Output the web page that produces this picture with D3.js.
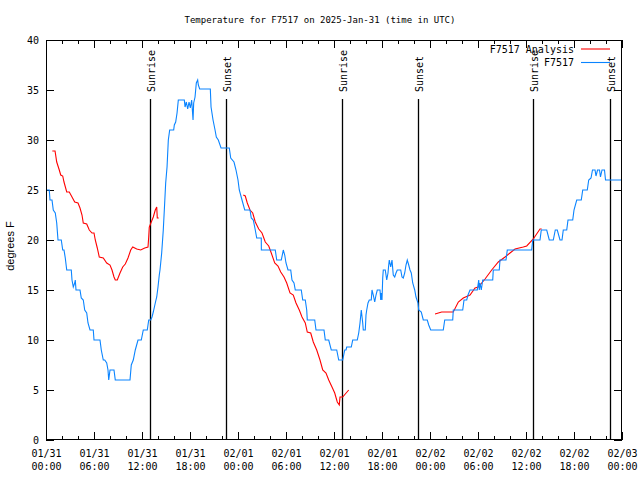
<!DOCTYPE html>
<html><head><meta charset="utf-8">
<script src="https://cdn.jsdelivr.net/npm/d3@7"></script>
<style>
body{margin:0;background:#fff;}
svg{display:block;}
text{font-family:"DejaVu Sans Mono",monospace;font-size:10px;fill:#000;}
</style></head><body>
<svg id="c" width="640" height="480"></svg>
<script>
// ---- data (hours after 2025-01-31 00:00 UTC) ----
const titleText = "Temperature for F7517 on 2025-Jan-31 (time in UTC)";
const yLabel = "degrees F";
const seriesNames = ["F7517 Analysis", "F7517"];
const yTicks = [0,5,10,15,20,25,30,35,40];

const obsHours = [0,0.41,0.5,0.75,0.91,1.16,1.34,1.5,1.91,2.09,2.25,2.41,2.59,3.16,3.25,3.41,3.59,3.66,3.75,4.25,4.41,4.66,4.84,5.09,5.25,5.5,5.91,6.0,6.75,6.91,7.16,7.34,7.59,7.75,7.84,8.0,8.5,8.66,10.5,10.66,10.91,11.16,11.5,11.91,12.16,12.66,12.84,13.09,13.25,13.41,13.66,13.84,14.0,14.16,14.25,14.46,14.66,14.79,14.96,15.13,15.29,15.46,15.96,16.04,16.21,16.38,16.54,17.29,17.38,17.54,17.71,17.88,18.04,18.21,18.38,18.46,18.63,18.79,18.96,19.04,19.21,20.54,20.63,20.88,21.13,21.29,21.54,21.88,22.91,23.09,23.5,23.75,24.0,24.16,24.5,24.84,25.5,25.66,25.91,26.16,26.34,26.91,26.92,28.66,28.84,29.41,29.59,29.66,29.84,30.0,30.25,30.59,30.75,31.0,31.16,31.91,32.09,32.41,32.59,32.66,33.59,33.75,34.75,34.91,35.34,35.66,36.34,36.59,37.09,37.34,37.5,37.59,38.16,38.34,38.91,39.09,39.25,39.41,39.59,39.66,39.91,40.0,40.09,40.25,40.41,40.66,40.75,40.91,41.09,41.25,41.41,41.75,41.84,41.91,42.0,42.09,42.16,42.41,42.59,42.75,42.84,42.91,43.09,43.25,43.41,43.59,43.75,43.91,44.34,44.5,44.66,44.84,45.0,45.16,45.34,45.5,45.66,45.84,46.09,46.25,46.5,46.59,46.91,47.16,47.66,47.84,48.09,49.66,49.84,50.84,50.91,52.09,52.25,52.59,52.75,53.0,53.91,54.09,54.16,54.25,54.41,54.59,55.84,55.91,56.66,56.75,57.5,57.66,60.71,60.84,61.75,61.91,62.59,62.91,63.41,63.66,63.91,64.25,64.5,64.66,65.09,65.25,65.84,66.0,66.34,66.91,67.09,67.66,67.84,68.13,68.31,68.63,68.75,68.94,69.19,69.31,69.5,69.81,69.94,72];
const obsValues = [25,25,24,24,23,22.7,21.7,20,20,19,19,18.2,17,17,16,15.3,15.7,16,15,15,14.2,14,13,12.7,11.7,11,11,10,10,9,8,8,7.7,7,6,7,7,6,6,7.5,8,9,10,10,11,11,12,12,12.3,12.8,13.7,14.3,15.3,16.5,17,18.7,21,23,25.7,27.3,30,31,31,31.5,31.8,32.7,34,34,33.3,33.8,33.1,33.8,33.2,34,32,33.7,34.3,35.7,36,35.5,35.1,35.1,33.3,32,31,30.3,30,29.2,29.2,28.2,27.8,27,26,25,24,23,23,22.2,22,21,20.2,20.2,19,19,18,18,18.7,19,18.5,17.7,17,17,16,15.7,15,15,14,14,13,12,12,11,11,10,10,9,9,8,8,9,9,9.3,9.3,10,10,10.7,11.7,13,11.7,11,11,12.5,13,13.7,14,14,15,14.5,13.8,14.5,15,15,14,14.7,14,16.2,17,17,16,16.7,17.5,18,17.3,18,16.5,16.3,16.7,17,17,16.3,16.2,16.7,17.5,18,17.5,17,16.7,15.7,15,14.3,13.7,13,12.8,12,12,11.5,11,11,12,12,13,13,14,14,14.5,15,15,16,15,15.7,15,16,16,17,17,18,18,19,19,20,20,21,21,20,20,21,21,20,20,21,21,22,22,23,24,24,25,25,26,26.2,27,27,26.4,27,27,26.3,27,27,26,26];

// analysis: null marks gaps between runs
const anaHours = [0.79,1.13,1.34,1.66,1.84,2.09,2.25,2.59,2.91,3.25,3.59,4.0,4.25,4.5,4.66,5.09,5.41,5.75,6.0,6.16,6.41,6.66,7.16,7.59,8.0,8.25,8.5,8.66,8.91,9.25,9.59,9.91,10.25,10.59,10.84,11.34,11.84,12.34,12.75,12.84,12.91,13.16,13.41,13.66,13.84,13.91,14.09,
  19,
  24.66,24.91,25.16,25.5,25.84,26.16,26.59,27.0,27.41,27.84,28.16,28.59,29.0,29.34,29.75,30.09,30.5,30.91,31.25,31.66,32.0,32.41,32.66,33.09,33.41,33.84,34.25,34.59,35.0,35.34,35.75,36.09,36.41,36.66,36.75,37.09,37.41,37.84,
  43,
  48.63,49.46,50.91,51.54,52.16,53.0,53.63,54.04,54.88,55.71,56.54,57.38,58.0,58.63,59.66,60.09,60.91,61.75,61.96];
const anaValues = [28.9,28.9,27.8,27,26.5,26.4,25.8,24.8,24.8,24.3,23.8,23.7,23.2,22.5,21.7,21.6,21,20.7,20.7,20,19.2,18.3,18.2,17.7,17.5,17,16.3,16,16,16.7,17.3,17.6,18.2,19,19.3,19.1,19,19.2,19.3,20.3,21.3,21.8,22.3,23,23.3,22.2,22.2,
  null,
  24.5,24.4,23.7,23,22.7,21.8,21.1,20.7,19.8,19.4,18.7,17.7,17.4,16.8,16.3,15.7,14.7,14.5,13.7,13,12.3,11.7,10.8,10.7,9.8,9,8,7,6.7,6,5.3,4.7,3.8,3.5,4.3,4.3,4.6,5,
  null,
  12.6,12.8,12.8,13.8,14.2,14.5,15.2,15.3,16.1,17,17.8,18.3,18.7,19.1,19.3,19.4,20.1,21.1,21.1];

const sunHours = [13.0, 22.5, 37.0, 46.5, 60.9, 70.5];
const sunLabels = ["Sunrise","Sunset","Sunrise","Sunset","Sunrise","Sunset"];

// ---- chart ----
const base = Date.UTC(2025,0,31);
const toDate = h => new Date(base + h*3600e3);
const svg = d3.select("#c");
const L=46, R=622, T=40, B=440;
const x = d3.scaleUtc().domain([toDate(0), toDate(72)]).range([L,R]);
const y = d3.scaleLinear().domain([0,40]).range([B,T]);

svg.append("text").attr("x",320).attr("y",23).attr("text-anchor","middle").style("font-size","9px").text(titleText);

// x axis bottom (major every 6h, inward ticks)
const fmtA = d3.utcFormat("%m/%d"), fmtB = d3.utcFormat("%H:%M");
const gx = svg.append("g").attr("transform",`translate(0,${B})`)
  .call(d3.axisBottom(x).ticks(d3.utcHour.every(6)).tickSizeInner(-8).tickSizeOuter(0).tickPadding(17).tickFormat(d=>fmtA(d)));
gx.select(".domain").remove();
gx.selectAll(".tick text").each(function(d){
  const t=d3.select(this); t.text(null).attr("dy",null);
  t.append("tspan").attr("x",0).attr("dy","0").text(fmtA(d));
  t.append("tspan").attr("x",0).attr("dy","13").text(fmtB(d));
}).attr("font-family",null).attr("font-size",null);
// minor bottom
const gxm = svg.append("g").attr("transform",`translate(0,${B})`)
  .call(d3.axisBottom(x).ticks(d3.utcHour.every(2)).tickSizeInner(-4).tickSizeOuter(0).tickFormat(""));
gxm.select(".domain").remove();
// top mirrored
const gxt = svg.append("g").attr("transform",`translate(0,${T})`)
  .call(d3.axisTop(x).ticks(d3.utcHour.every(6)).tickSizeInner(-8).tickSizeOuter(0).tickFormat(""));
gxt.select(".domain").remove();
const gxtm = svg.append("g").attr("transform",`translate(0,${T})`)
  .call(d3.axisTop(x).ticks(d3.utcHour.every(2)).tickSizeInner(-4).tickSizeOuter(0).tickFormat(""));
gxtm.select(".domain").remove();

// y axes
const gy = svg.append("g").attr("transform",`translate(${L},0)`)
  .call(d3.axisLeft(y).tickValues(yTicks).tickSizeInner(-8).tickSizeOuter(0).tickPadding(7));
gy.select(".domain").remove();
gy.selectAll(".tick text").attr("font-family",null).attr("font-size",null).attr("dy","0.35em");
const gyr = svg.append("g").attr("transform",`translate(${R},0)`)
  .call(d3.axisRight(y).tickValues(yTicks).tickSizeInner(-8).tickSizeOuter(0).tickFormat(""));
gyr.select(".domain").remove();
svg.selectAll(".tick line").attr("stroke","#000");

svg.append("text").attr("transform",`translate(14,246) rotate(-90)`)
  .attr("text-anchor","middle").style("font-family","'Liberation Sans',Arial,sans-serif").style("font-size","11px").text(yLabel);

// sun lines
const sg = svg.append("g");
sunHours.forEach((h,i)=>{
  const xx = Math.round(x(toDate(h)))+0.5;
  sg.append("line").attr("x1",xx).attr("x2",xx).attr("y1",99).attr("y2",B).attr("stroke","#000").attr("stroke-width",1.3);
  sg.append("text").attr("transform",`translate(${xx+4},92) rotate(-90)`).attr("text-anchor","start").text(sunLabels[i]);
});

// series
const line = d3.line().defined(d=>d[1]!==null).x(d=>x(toDate(d[0]))).y(d=>y(d[1]));
const anaData = anaHours.map((h,i)=>[h,anaValues[i]]);
const obsData = obsHours.map((h,i)=>[h,obsValues[i]]);
svg.append("path").datum(anaData).attr("d",line).attr("fill","none").attr("stroke","#ff0000").attr("stroke-width",1.1);
svg.append("path").datum(obsData).attr("d",line).attr("fill","none").attr("stroke","#0a84ff").attr("stroke-width",1.1);

// frame
svg.append("rect").attr("x",L+0.5).attr("y",T+0.5).attr("width",R-L-1).attr("height",B-T-1).attr("fill","none").attr("stroke","#000");

// legend
const lg = svg.append("g");
const legColors = ["#ff0000","#0a84ff"];
seriesNames.forEach((n,i)=>{
  const yy = 49 + i*13.5;
  lg.append("text").attr("x",574).attr("y",yy).attr("dy","0.35em").attr("text-anchor","end").text(n);
  lg.append("line").attr("x1",581).attr("x2",610).attr("y1",yy).attr("y2",yy).attr("stroke",legColors[i]).attr("stroke-width",1.1);
});
</script>
</body></html>
